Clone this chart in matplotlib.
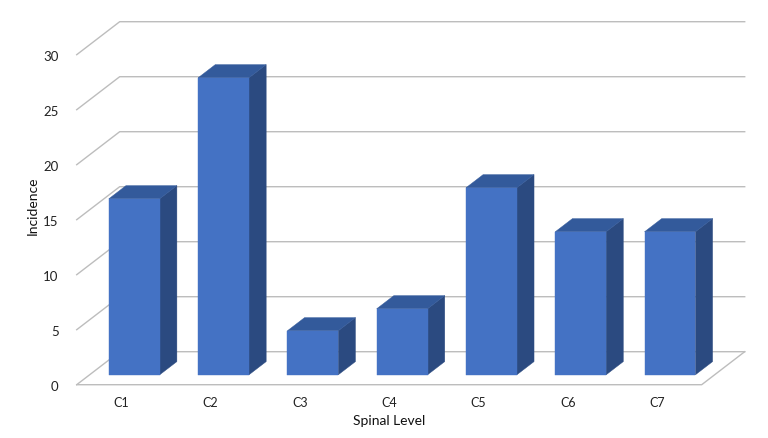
#!/usr/bin/python3
# Fake 3D column chart, spinal level vs incidence
import matplotlib
matplotlib.use('Agg')
import matplotlib.pyplot as plt

plt.rcParams['font.family'] = ['Lato', 'DejaVu Sans']

levels = ['C1', 'C2', 'C3', 'C4', 'C5', 'C6', 'C7']
incidence = [16, 27, 4, 6, 17, 13, 13]
yticks = [0, 5, 10, 15, 20, 25, 30]

W, H = 768, 439
# oblique projection: full depth of the chart box in data units
depthX = 43 / (625 / 7)
depthY = 3.0
barWidth = 0.57
depthNear = 0.30
depthFar = 0.70

cFront = '#4472C4'
cSide = '#2B4A80'
cTop = '#335A9B'
cGrid = '#BDBDBD'


def proj(x, y, d):
    return x + d * depthX, y + d * depthY


fig = plt.figure(figsize=(W / 100, H / 100), dpi=100)
ax = fig.add_axes([76.7 / W, 1 - 385.7 / H, 625 / W, 330 / H])
ax.set_xlim(0, len(levels))
ax.set_ylim(0, 30)
for s in ax.spines.values():
    s.set_visible(False)

# ==[1] Walls and floor
#
for v in yticks:
    x0, y0 = proj(0, v, 0)
    x1, y1 = proj(0, v, 1)
    x2, y2 = proj(len(levels), v, 1)
    ax.plot([x0, x1, x2], [y0, y1, y2], color=cGrid, lw=1.0, clip_on=False, zorder=1)

x0, y0 = proj(len(levels), 0, 0)
x1, y1 = proj(len(levels), 0, 1)
ax.plot([0, x0, x1], [0, y0, y1], color=cGrid, lw=1.0, clip_on=False, zorder=1)

# ==[2] Columns
#
for i, v in enumerate(incidence):
    left = i + (1 - barWidth) / 2
    right = left + barWidth
    a = proj(left, 0, depthNear)
    b = proj(right, 0, depthNear)
    c = proj(right, v, depthNear)
    d = proj(left, v, depthNear)
    e = proj(right, 0, depthFar)
    f = proj(right, v, depthFar)
    g = proj(left, v, depthFar)
    for pts, col in [([b, e, f, c], cSide), ([d, c, f, g], cTop), ([a, b, c, d], cFront)]:
        ax.fill([p[0] for p in pts], [p[1] for p in pts], color=col, lw=0.3,
                clip_on=False, zorder=3)

# ==[3] Axis text
#
ax.set_xticks([i + 0.5 for i in range(len(levels))])
ax.set_xticklabels(levels, fontsize=9)
ax.set_yticks(yticks)
ax.tick_params(axis='both', length=0, labelsize=9.5, colors='#222222')
ax.tick_params(axis='x', labelsize=9, pad=8)
ax.tick_params(axis='y', pad=13)

fig.text(33 / W, 1 - 205.5 / H, 'Incidence', rotation=90, ha='center', va='center',
         fontsize=10, color='#111111')
fig.text(389 / W, 1 - 421.5 / H, 'Spinal Level', ha='center', va='center',
         fontsize=10, color='#111111')

fig.savefig('out.png', dpi=100)
